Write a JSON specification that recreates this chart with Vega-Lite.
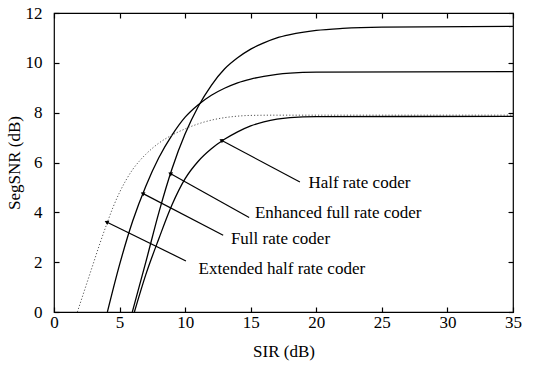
{
  "$schema": "https://vega.github.io/schema/vega-lite/v6.json",
  "width": 459,
  "height": 299,
  "autosize": "none",
  "padding": {"left": 54, "top": 13, "right": 20, "bottom": 55},
  "background": "white",
  "config": {
    "view": {"stroke": "black", "strokeWidth": 1.2},
    "font": "serif",
    "axis": {
      "grid": false,
      "domain": false,
      "tickColor": "black",
      "tickSize": -5,
      "tickWidth": 1.2,
      "labelFont": "serif",
      "labelFontSize": 17,
      "labelColor": "black",
      "titleFont": "serif",
      "titleFontSize": 17,
      "titleFontWeight": "normal",
      "titleColor": "black"
    }
  },
  "datasets": {
    "curves": [
      {"series": "Enhanced full rate coder", "sir": 5.97, "snr": 0},
      {"series": "Enhanced full rate coder", "sir": 7.0, "snr": 2.0},
      {"series": "Enhanced full rate coder", "sir": 8.0, "snr": 4.0},
      {"series": "Enhanced full rate coder", "sir": 9.0, "snr": 5.75},
      {"series": "Enhanced full rate coder", "sir": 10.0, "snr": 7.15},
      {"series": "Enhanced full rate coder", "sir": 11.0, "snr": 8.25},
      {"series": "Enhanced full rate coder", "sir": 12.0, "snr": 9.1},
      {"series": "Enhanced full rate coder", "sir": 13.0, "snr": 9.75},
      {"series": "Enhanced full rate coder", "sir": 14.0, "snr": 10.2},
      {"series": "Enhanced full rate coder", "sir": 15.0, "snr": 10.55},
      {"series": "Enhanced full rate coder", "sir": 16.0, "snr": 10.8},
      {"series": "Enhanced full rate coder", "sir": 17.0, "snr": 11.0},
      {"series": "Enhanced full rate coder", "sir": 18.0, "snr": 11.13},
      {"series": "Enhanced full rate coder", "sir": 20.0, "snr": 11.3},
      {"series": "Enhanced full rate coder", "sir": 22.0, "snr": 11.38},
      {"series": "Enhanced full rate coder", "sir": 25.0, "snr": 11.43},
      {"series": "Enhanced full rate coder", "sir": 35, "snr": 11.46},
      {"series": "Full rate coder", "sir": 4.07, "snr": 0},
      {"series": "Full rate coder", "sir": 5.0, "snr": 1.9},
      {"series": "Full rate coder", "sir": 6.0, "snr": 3.65},
      {"series": "Full rate coder", "sir": 7.0, "snr": 5.05},
      {"series": "Full rate coder", "sir": 8.0, "snr": 6.2},
      {"series": "Full rate coder", "sir": 9.0, "snr": 7.1},
      {"series": "Full rate coder", "sir": 10.0, "snr": 7.82},
      {"series": "Full rate coder", "sir": 11.0, "snr": 8.32},
      {"series": "Full rate coder", "sir": 12.0, "snr": 8.7},
      {"series": "Full rate coder", "sir": 13.0, "snr": 8.98},
      {"series": "Full rate coder", "sir": 14.0, "snr": 9.2},
      {"series": "Full rate coder", "sir": 15.0, "snr": 9.35},
      {"series": "Full rate coder", "sir": 16.0, "snr": 9.46},
      {"series": "Full rate coder", "sir": 17.0, "snr": 9.54},
      {"series": "Full rate coder", "sir": 18.0, "snr": 9.59},
      {"series": "Full rate coder", "sir": 20.0, "snr": 9.63},
      {"series": "Full rate coder", "sir": 35, "snr": 9.65},
      {"series": "Half rate coder", "sir": 6.13, "snr": 0},
      {"series": "Half rate coder", "sir": 7.0, "snr": 1.5},
      {"series": "Half rate coder", "sir": 8.0, "snr": 2.95},
      {"series": "Half rate coder", "sir": 9.0, "snr": 4.3},
      {"series": "Half rate coder", "sir": 10.0, "snr": 5.35},
      {"series": "Half rate coder", "sir": 11.0, "snr": 6.05},
      {"series": "Half rate coder", "sir": 12.0, "snr": 6.55},
      {"series": "Half rate coder", "sir": 13.0, "snr": 6.93},
      {"series": "Half rate coder", "sir": 14.0, "snr": 7.23},
      {"series": "Half rate coder", "sir": 15.0, "snr": 7.47},
      {"series": "Half rate coder", "sir": 16.0, "snr": 7.63},
      {"series": "Half rate coder", "sir": 17.0, "snr": 7.74},
      {"series": "Half rate coder", "sir": 18.0, "snr": 7.8},
      {"series": "Half rate coder", "sir": 20.0, "snr": 7.84},
      {"series": "Half rate coder", "sir": 35, "snr": 7.85},
      {"series": "Extended half rate coder", "sir": 1.78, "snr": 0},
      {"series": "Extended half rate coder", "sir": 2.5, "snr": 1.15},
      {"series": "Extended half rate coder", "sir": 3.0, "snr": 1.95},
      {"series": "Extended half rate coder", "sir": 3.5, "snr": 2.75},
      {"series": "Extended half rate coder", "sir": 4.0, "snr": 3.5},
      {"series": "Extended half rate coder", "sir": 4.5, "snr": 4.2},
      {"series": "Extended half rate coder", "sir": 5.0, "snr": 4.8},
      {"series": "Extended half rate coder", "sir": 5.5, "snr": 5.3},
      {"series": "Extended half rate coder", "sir": 6.0, "snr": 5.72},
      {"series": "Extended half rate coder", "sir": 6.5, "snr": 6.05},
      {"series": "Extended half rate coder", "sir": 7.0, "snr": 6.33},
      {"series": "Extended half rate coder", "sir": 8.0, "snr": 6.78},
      {"series": "Extended half rate coder", "sir": 9.0, "snr": 7.1},
      {"series": "Extended half rate coder", "sir": 10.0, "snr": 7.35},
      {"series": "Extended half rate coder", "sir": 11.0, "snr": 7.55},
      {"series": "Extended half rate coder", "sir": 12.0, "snr": 7.7},
      {"series": "Extended half rate coder", "sir": 13.0, "snr": 7.8},
      {"series": "Extended half rate coder", "sir": 14.0, "snr": 7.86},
      {"series": "Extended half rate coder", "sir": 15.0, "snr": 7.89},
      {"series": "Extended half rate coder", "sir": 17.0, "snr": 7.9},
      {"series": "Extended half rate coder", "sir": 35, "snr": 7.9}
    ],
    "notes": [
      {"label": "Half rate coder", "tipx": 12.8, "tipy": 6.88, "tailx": 18.75, "taily": 5.22, "lx": 19.4, "ly": 5.18},
      {"label": "Enhanced full rate coder", "tipx": 8.9, "tipy": 5.55, "tailx": 14.88, "taily": 3.79, "lx": 15.32, "ly": 3.99},
      {"label": "Full rate coder", "tipx": 6.8, "tipy": 4.75, "tailx": 12.9, "taily": 3.08, "lx": 13.49, "ly": 2.94},
      {"label": "Extended half rate coder", "tipx": 4.05, "tipy": 3.6, "tailx": 10.06, "taily": 2.05, "lx": 11.02, "ly": 1.74}
    ]
  },
  "layer": [
    {
      "data": {"name": "curves"},
      "transform": [{"filter": "datum.series !== 'Extended half rate coder'"}],
      "mark": {"type": "line", "color": "black", "strokeWidth": 1.3, "interpolate": "monotone"},
      "encoding": {
        "x": {"field": "sir", "type": "quantitative", "scale": {"domain": [0, 35], "nice": false},
              "axis": {"orient": "bottom", "title": "SIR (dB)", "values": [0, 5, 10, 15, 20, 25, 30, 35], "labelPadding": 7, "titlePadding": 13, "labelFlush": false}},
        "y": {"field": "snr", "type": "quantitative", "scale": {"domain": [0, 12], "nice": false},
              "axis": {"orient": "left", "title": "SegSNR (dB)", "values": [0, 2, 4, 6, 8, 10, 12], "labelPadding": 17, "titlePadding": 2, "labelFlush": false}},
        "detail": {"field": "series"}
      }
    },
    {
      "data": {"name": "curves"},
      "transform": [{"filter": "datum.series === 'Extended half rate coder'"}],
      "mark": {"type": "line", "color": "#555555", "strokeWidth": 1, "strokeDash": [1.2, 2], "interpolate": "monotone"},
      "encoding": {
        "x": {"field": "sir", "type": "quantitative", "scale": {"domain": [0, 35], "nice": false},
              "axis": {"orient": "top", "title": null, "labels": false, "values": [0, 5, 10, 15, 20, 25, 30, 35]}},
        "y": {"field": "snr", "type": "quantitative", "scale": {"domain": [0, 12], "nice": false},
              "axis": {"orient": "right", "title": null, "labels": false, "values": [0, 2, 4, 6, 8, 10, 12]}}
      }
    },
    {
      "data": {"name": "notes"},
      "mark": {"type": "rule", "color": "black", "strokeWidth": 1.2},
      "encoding": {
        "x": {"field": "tipx", "type": "quantitative", "axis": null},
        "y": {"field": "tipy", "type": "quantitative", "axis": null},
        "x2": {"field": "tailx"},
        "y2": {"field": "taily"}
      }
    },
    {
      "data": {"name": "notes"},
      "mark": {"type": "point", "shape": "triangle", "filled": true, "color": "black", "size": 22, "angle": 297, "opacity": 1},
      "encoding": {
        "x": {"field": "tipx", "type": "quantitative", "axis": null},
        "y": {"field": "tipy", "type": "quantitative", "axis": null}
      }
    },
    {
      "data": {"name": "notes"},
      "mark": {"type": "text", "align": "left", "baseline": "middle", "font": "serif", "fontSize": 17, "color": "black"},
      "encoding": {
        "x": {"field": "lx", "type": "quantitative", "axis": null},
        "y": {"field": "ly", "type": "quantitative", "axis": null},
        "text": {"field": "label"}
      }
    }
  ],
  "resolve": {"axis": {"x": "independent", "y": "independent"}}
}
